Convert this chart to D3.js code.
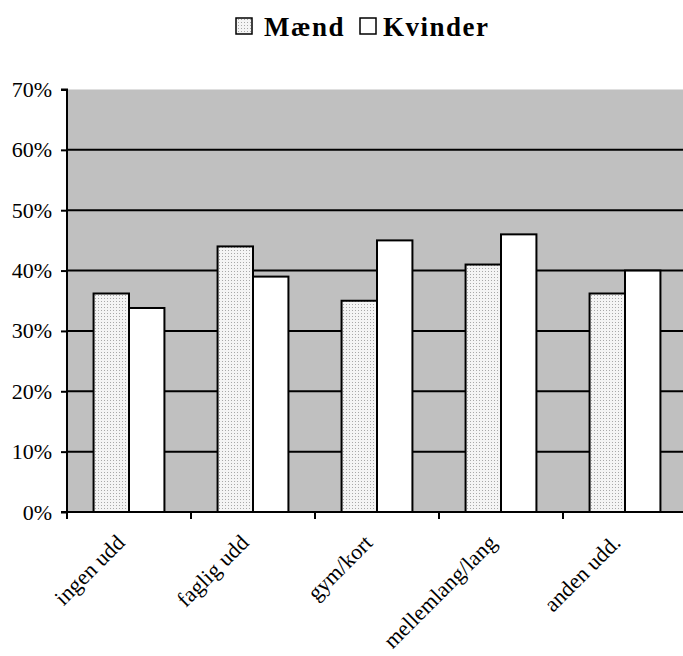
<!DOCTYPE html>
<html>
<head>
<meta charset="utf-8">
<script src="https://cdn.jsdelivr.net/npm/d3@7"></script>
<style>
  html, body { margin: 0; padding: 0; background: #fff; }
  svg { display: block; }
</style>
</head>
<body>
<svg id="chart" width="683" height="656"></svg>
<script>
// Education categories along the x axis
const categories = ["ingen udd", "faglig udd", "gym/kort", "mellemlang/lang", "anden udd."];
// Shares per group, in percent
const maend = [36.2, 44, 35, 41, 36.2];
const kvinder = [33.8, 39, 45, 46, 40];
const seriesNames = ["Mænd", "Kvinder"];
const yTicks = [0, 10, 20, 30, 40, 50, 60, 70];

const svg = d3.select("#chart");
const font = "'Liberation Serif', 'Times New Roman', serif";

const plot = { left: 67, right: 687, top: 89.5, bottom: 512 };

const defs = svg.append("defs");
const pat = defs.append("pattern")
  .attr("id", "dots")
  .attr("patternUnits", "userSpaceOnUse")
  .attr("width", 3).attr("height", 3);
pat.append("rect").attr("width", 3).attr("height", 3).attr("fill", "#f4f4f4");
pat.append("rect").attr("x", 1).attr("y", 1).attr("width", 1).attr("height", 1).attr("fill", "#a8a8a8");

const x0 = d3.scaleBand().domain(categories).range([plot.left, plot.right]).paddingInner(0).paddingOuter(0);
// two bars per category, 150% gap split evenly on both sides
const x1 = d3.scaleBand().domain(seriesNames).range([0, x0.bandwidth()]).paddingInner(0).paddingOuter(0.75);
const y = d3.scaleLinear().domain([0, 70]).range([plot.bottom, plot.top]);

// plot background
svg.append("rect")
  .attr("x", plot.left).attr("y", plot.top)
  .attr("width", plot.right - plot.left).attr("height", plot.bottom - plot.top)
  .attr("fill", "#c0c0c0");

// gridlines
svg.append("g").selectAll("line")
  .data(yTicks.filter(d => d > 0 && d < 70))
  .join("line")
  .attr("x1", plot.left).attr("x2", plot.right)
  .attr("y1", d => y(d)).attr("y2", d => y(d))
  .attr("stroke", "#000").attr("stroke-width", 2);

// bars
const rows = categories.map((c, i) => ({ cat: c, vals: [
  { key: "Mænd", v: maend[i] }, { key: "Kvinder", v: kvinder[i] }] }));

const groups = svg.append("g").selectAll("g")
  .data(rows).join("g")
  .attr("transform", d => `translate(${x0(d.cat)},0)`);

groups.selectAll("rect")
  .data(d => d.vals).join("rect")
  .attr("x", d => x1(d.key))
  .attr("width", x1.bandwidth())
  .attr("y", d => y(d.v))
  .attr("height", d => y(0) - y(d.v))
  .attr("fill", d => d.key === "Mænd" ? "url(#dots)" : "#fff")
  .attr("stroke", "#000").attr("stroke-width", 2);

// y axis
const yAxis = d3.axisLeft(y).tickValues(yTicks).tickFormat(d => d + "%").tickSize(6).tickPadding(9);
const gy = svg.append("g").attr("transform", `translate(${plot.left},0)`).call(yAxis);
gy.select(".domain").attr("stroke", "#000").attr("stroke-width", 2).attr("d", `M-6,${plot.top}H0V${plot.bottom}`);
gy.selectAll(".tick line").attr("stroke", "#000").attr("stroke-width", 2);
gy.selectAll(".tick text").attr("font-family", font).attr("font-size", 22).attr("fill", "#000");

// x axis
const xTickPos = categories.map(c => x0(c));
const gx = svg.append("g");
gx.append("line")
  .attr("x1", plot.left - 6).attr("x2", plot.right)
  .attr("y1", plot.bottom).attr("y2", plot.bottom)
  .attr("stroke", "#000").attr("stroke-width", 2);
gx.selectAll("line.tk").data(xTickPos).join("line").attr("class", "tk")
  .attr("x1", d => d).attr("x2", d => d)
  .attr("y1", plot.bottom).attr("y2", plot.bottom + 7)
  .attr("stroke", "#000").attr("stroke-width", 2);
gx.selectAll("text").data(categories).join("text")
  .attr("transform", d => `translate(${x0(d) + x0.bandwidth() / 2 - 3},${plot.bottom + 32}) rotate(-45)`)
  .attr("text-anchor", "end")
  .attr("font-family", font).attr("font-size", 22).attr("letter-spacing", 0.1)
  .text(d => d);

// legend
const legend = svg.append("g").attr("font-family", font).attr("font-size", 27).attr("font-weight", "bold")
  .attr("letter-spacing", 1.5);
const leg = [{ key: "Mænd", x: 236, tx: 264, fill: "url(#dots)" }, { key: "Kvinder", x: 360, tx: 383, fill: "#fff" }];
leg.forEach(l => {
  legend.append("rect").attr("x", l.x).attr("y", 18).attr("width", 16).attr("height", 16)
    .attr("fill", l.fill).attr("stroke", "#000").attr("stroke-width", 1.5);
  legend.append("text").attr("x", l.tx).attr("y", 36).text(l.key);
});
</script>
</body>
</html>
